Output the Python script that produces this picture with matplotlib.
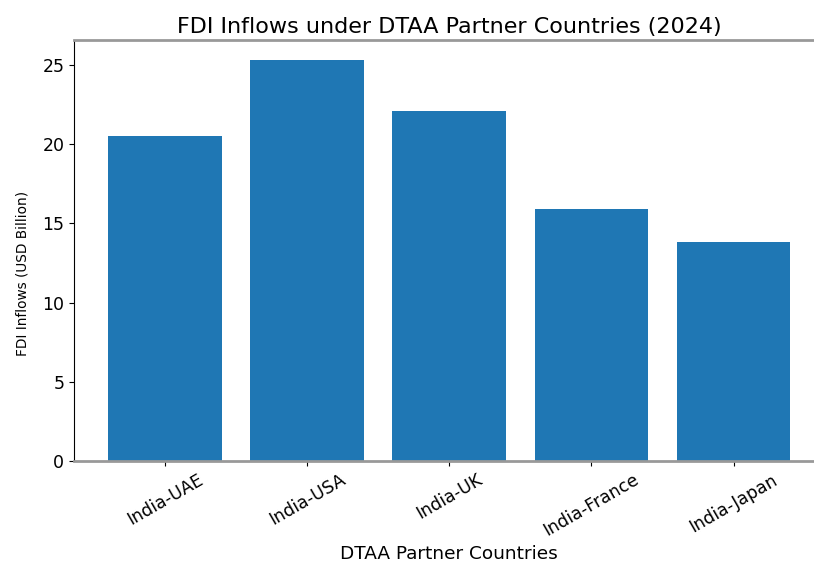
import matplotlib
matplotlib.use("Agg")
import matplotlib.pyplot as plt

# FDI inflows by DTAA partner, 2024 (USD billion)
countries = ["India-UAE", "India-USA", "India-UK", "India-France", "India-Japan"]
fdi_inflows = [20.5, 25.3, 22.1, 15.9, 13.8]

fig = plt.figure(figsize=(8.14, 5.67), dpi=100)
ax = fig.add_axes([0.091, 0.187, 0.922, 0.742])

ax.bar(countries, fdi_inflows, color="#1f77b4")

ax.set_title("FDI Inflows under DTAA Partner Countries (2024)", fontsize=16, pad=5)
ax.set_xlabel("DTAA Partner Countries", fontsize=13.3)
ax.set_ylabel("FDI Inflows (USD Billion)", fontsize=9.8)
ax.yaxis.set_label_coords(-0.06, 0.445)
ax.tick_params(axis="both", labelsize=12.5)
plt.setp(ax.get_xticklabels(), rotation=30)

# gray top/bottom rules, plain left axis
ax.spines["right"].set_visible(False)
for side in ("top", "bottom"):
    ax.spines[side].set_color("#999999")
    ax.spines[side].set_linewidth(2)

fig.savefig("out.png", dpi=100)
